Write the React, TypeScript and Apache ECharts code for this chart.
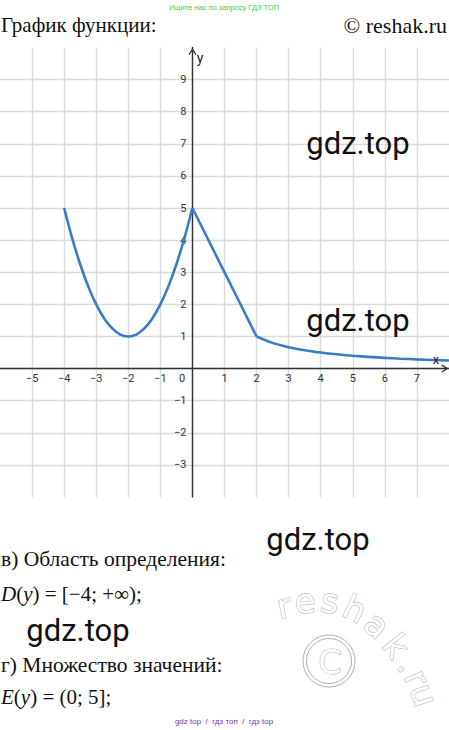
import React, { useEffect, useRef } from "react";
import * as echarts from "echarts";

// Values
const parabolaX = [-4, -3.75, -3.5, -3.25, -3, -2.75, -2.5, -2.25, -2, -1.75, -1.5, -1.25, -1, -0.75, -0.5, -0.25, 0];
const parabolaY = [5, 4.06, 3.25, 2.56, 2, 1.56, 1.25, 1.06, 1, 1.06, 1.25, 1.56, 2, 2.56, 3.25, 4.06, 5];
const segmentX = [0, 2];
const segmentY = [5, 1];
const hyperX = [2, 2.5, 3, 3.5, 4, 4.5, 5, 5.5, 6, 6.5, 7, 7.5, 8];
const hyperY = [1, 0.8, 0.667, 0.571, 0.5, 0.444, 0.4, 0.364, 0.333, 0.308, 0.286, 0.267, 0.25];

const xMin = -6, xMax = 8;
const yMin = -4, yMax = 10;
const tickStep = 1;

const headerText = "Ищите нас по запросу ГДЗ ТОП";
const titleText = "График функции:";
const siteText = "© reshak.ru";
const watermarkText = "gdz.top";
const domainLabel = "в) Область определения:";
const rangeLabel = "г) Множество значений:";
const footerText = "gdz top  /  гдз топ  /  гдз top";

const pair = (xs: number[], ys: number[]) => xs.map((x, i) => [x, ys[i]]);
const fmt = (v: number) => (v < 0 ? "\u2212" + -v : String(v));

const CURVE = "#3a7cc4";
const AXIS = "#333333";
const GRIDC = "#dadada";
const WM = "#b0b0b0";

const serif = '"Liberation Serif"';

// plot box
const GRID_LEFT = 0, GRID_TOP = 47.5, GRID_W = 449, GRID_H = 449.5;

export default function App() {
  const ref = useRef<HTMLDivElement>(null);
  useEffect(() => {
    if (!ref.current) return;
    const chart = echarts.init(ref.current, null, { renderer: "svg" });
    const lineSeries = (data: number[][], smooth: boolean) => ({
      type: "line",
      data,
      smooth: smooth ? 0.3 : false,
      showSymbol: false,
      symbol: "none",
      lineStyle: { color: CURVE, width: 2.6 },
      z: 5,
    });
    const txt = (text: string, x: number, y: number, size: number, extra: any = {}) => ({
      type: "text",
      x,
      y,
      z: 10,
      style: {
        text,
        fill: "#111",
        fontFamily: serif,
        fontSize: size,
        align: "left",
        verticalAlign: "middle",
        ...extra,
      },
    });
    const mathRich = {
      i: { fontFamily: serif, fontSize: 21, fontStyle: "italic", fill: "#111" },
      n: { fontFamily: serif, fontSize: 21, fill: "#111" },
    };
    const wmLetters: [string, number, number, number][] = [
      ["r", 284, 606, 0.2],
      ["e", 305, 601, 0.08],
      ["s", 330, 601, -0.15],
      ["h", 355, 609, -0.45],
      ["a", 377, 625, -0.7],
      ["k", 396, 646, -0.9],
      [".", 409, 664, -1.0],
      ["r", 417, 678, -1.15],
      ["u", 424, 695, -1.25],
    ];
    // axes crossing at the origin: shift the axes from the plot edges to zero
    const yOffset = -GRID_W * (0 - xMin) / (xMax - xMin);
    const xOffset = -GRID_H * (0 - yMin) / (yMax - yMin);
    const arrow = "path://M5,0 L10,8 L8.6,8.8 L5,3 L1.4,8.8 L0,8 Z";
    const option: any = {
      animation: false,
      backgroundColor: "#ffffff",
      grid: {
        left: GRID_LEFT,
        top: GRID_TOP,
        width: GRID_W,
        height: GRID_H,
        containLabel: false,
        outerBoundsMode: "none",
      },
      xAxis: {
        type: "value",
        min: xMin,
        max: xMax,
        interval: tickStep,
        position: "bottom",
        offset: xOffset,
        axisLine: {
          onZero: false,
          lineStyle: { color: AXIS, width: 1.4 },
          symbol: ["none", arrow],
          symbolSize: [8, 9],
          symbolOffset: [0, -4],
        },
        axisTick: { show: false },
        axisLabel: {
          color: AXIS,
          fontSize: 11,
          fontFamily: "Roboto",
          margin: 4,
          formatter: (v: number) => (v === 0 || v === xMin || v === xMax ? "" : fmt(v)),
        },
        splitLine: { show: true, showMinLine: false, showMaxLine: false, lineStyle: { color: GRIDC, width: 1.4 } },
      },
      yAxis: {
        type: "value",
        min: yMin,
        max: yMax,
        interval: tickStep,
        position: "left",
        offset: yOffset,
        axisLine: {
          onZero: false,
          lineStyle: { color: AXIS, width: 1.4 },
          symbol: ["none", arrow],
          symbolSize: [8, 9],
          symbolOffset: [0, -4],
        },
        axisTick: { show: false },
        axisLabel: {
          color: AXIS,
          fontSize: 11,
          fontFamily: "Roboto",
          margin: 6,
          formatter: (v: number) => (v === 0 || v === yMin || v === yMax ? "" : fmt(v)),
        },
        splitLine: { show: true, showMinLine: false, showMaxLine: false, lineStyle: { color: GRIDC, width: 1.4 } },
      },
      series: [
        lineSeries(pair(parabolaX, parabolaY), true),
        lineSeries(pair(segmentX, segmentY), false),
        lineSeries(pair(hyperX, hyperY), true),
      ],
      graphic: [
        txt(headerText, 224, 7, 7.5, { align: "center", fill: "#3fcf3f", fontFamily: '"Liberation Sans"' }),
        txt(titleText, 1, 25, 21),
        txt(siteText, 447, 25, 22, { align: "right" }),
        txt("0", 182, 378, 11, { align: "center", fill: AXIS, fontFamily: "Roboto" }),
        txt("y", 200, 58, 14, { align: "center", fill: "#222", fontFamily: "Roboto" }),
        txt("x", 436, 359, 13, { align: "center", fill: "#222", fontFamily: "Roboto" }),
        txt(watermarkText, 358, 143, 31, { align: "center", fontFamily: "Roboto" }),
        txt(watermarkText, 358, 320, 31, { align: "center", fontFamily: "Roboto" }),
        txt(watermarkText, 318, 539, 31, { align: "center", fontFamily: "Roboto" }),
        txt(watermarkText, 78, 630, 31, { align: "center", fontFamily: "Roboto" }),
        txt(domainLabel, 1, 559, 21.5),
        txt("{i|D}{n|(}{i|y}{n|) = [\u22124; +\u221E);}", 1, 594, 21, { rich: mathRich }),
        txt(rangeLabel, 1, 665, 21.5),
        txt("{i|E}{n|(}{i|y}{n|) = (0; 5];}", 1, 697, 21, { rich: mathRich }),
        txt(footerText, 224, 721, 8, { align: "center", fill: "#6a40a8", fontFamily: '"Liberation Sans"' }),
        {
          type: "ring",
          shape: { cx: 329, cy: 661, r: 26, r0: 22.5 },
          style: { fill: "#ffffff", stroke: WM, lineWidth: 1 },
          z: 9,
        },
        txt("C", 330, 662, 34, {
          align: "center",
          fill: "#ffffff",
          stroke: WM,
          lineWidth: 1,
          fontFamily: '"DejaVu Sans"',
        }),
        ...wmLetters.map(([ch, x, y, rot]) => ({
          type: "text",
          x,
          y,
          rotation: rot,
          z: 9,
          style: {
            text: ch,
            fill: "#ffffff",
            stroke: WM,
            lineWidth: 1.1,
            fontFamily: '"DejaVu Sans"',
            fontSize: 34,
            align: "center",
            verticalAlign: "middle",
          },
        })),
      ],
    };
    chart.setOption(option);
    return () => chart.dispose();
  }, []);
  return (
    <div
      ref={ref}
      style={{ position: "absolute", left: 0, top: 0, width: 449, height: 730, background: "#fff" }}
    />
  );
}
